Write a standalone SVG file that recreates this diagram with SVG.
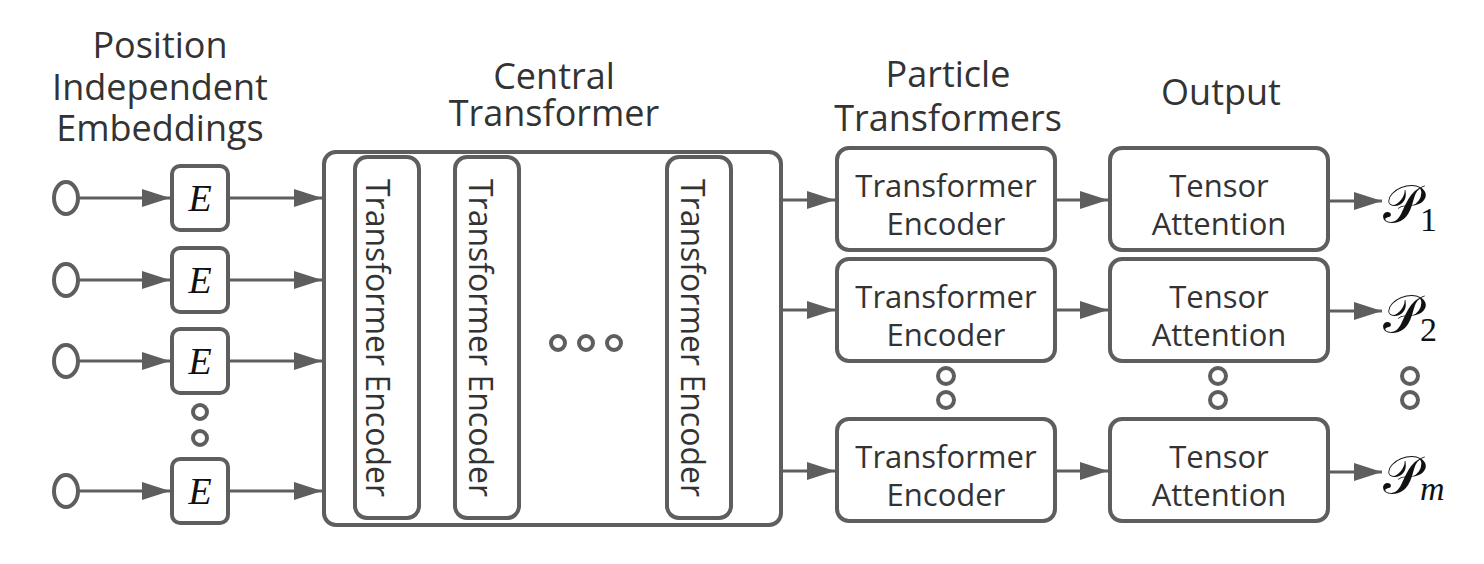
<svg xmlns="http://www.w3.org/2000/svg" width="1484" height="564" viewBox="0 0 1484 564">
<defs>
<marker id="ah" markerUnits="userSpaceOnUse" markerWidth="28" markerHeight="18" refX="28" refY="9" orient="auto">
<path d="M0,0 L28,9 L0,18 z" fill="#5e5e5e"/>
</marker>
<style>
.box{fill:#fff;stroke:#5e5e5e;stroke-width:4}
.dot{fill:none;stroke:#5e5e5e;stroke-width:4}
.con{stroke:#5e5e5e;stroke-width:3;fill:none}
.t{font-family:"Open Sans","Noto Sans",sans-serif;fill:#333;text-anchor:middle}
.title{font-size:36px}
.lbl{font-size:31px}
.vl{font-size:32px}
.e{font-family:"Liberation Serif","DejaVu Serif",serif;font-style:italic;font-size:38px;fill:#111;text-anchor:middle}
.p{font-family:"DejaVu Serif","Liberation Serif",serif;font-size:52px;fill:#111}
.sub{font-family:"Liberation Serif","DejaVu Serif",serif;font-size:34px;fill:#111}
</style>
</defs>
<rect width="1484" height="564" fill="#fff"/>

<g id="titles">
<text class="t title" x="160" y="58">Position<tspan x="160" dy="42">Independent</tspan><tspan x="160" dy="41">Embeddings</tspan></text>
<text class="t title" x="554" y="89">Central<tspan x="554" dy="37">Transformer</tspan></text>
<text class="t title" x="948" y="87">Particle<tspan x="948" dy="44">Transformers</tspan></text>
<text class="t title" x="1221" y="105">Output</text>
</g>

<g id="inputs">
<ellipse class="dot" cx="66" cy="198" rx="12" ry="16"/>
<ellipse class="dot" cx="66" cy="280" rx="12" ry="16"/>
<ellipse class="dot" cx="66" cy="361" rx="12" ry="16"/>
<ellipse class="dot" cx="66" cy="491" rx="12" ry="16"/>
</g>

<g id="embeddings">
<g id="E1"><rect class="box" x="172" y="166" width="56" height="64" rx="8"/><text class="e" x="200" y="211">E</text></g>
<g id="E2"><rect class="box" x="172" y="248" width="56" height="64" rx="8"/><text class="e" x="200" y="293">E</text></g>
<g id="E3"><rect class="box" x="172" y="329" width="56" height="64" rx="8"/><text class="e" x="200" y="374">E</text></g>
<g id="E4"><rect class="box" x="172" y="459" width="56" height="64" rx="8"/><text class="e" x="200" y="504">E</text></g>
<circle class="dot" cx="200" cy="412" r="7"/>
<circle class="dot" cx="200" cy="438" r="7"/>
</g>

<g id="central">
<rect class="box" x="324" y="152" width="457" height="373" rx="12"/>
<g id="enc1"><rect class="box" x="355" y="157" width="64" height="361" rx="12"/><text class="t vl" transform="translate(366,338) rotate(90)">Transformer Encoder</text></g>
<g id="enc2"><rect class="box" x="455" y="157" width="64" height="361" rx="12"/><text class="t vl" transform="translate(469,338) rotate(90)">Transformer Encoder</text></g>
<g id="enc3"><rect class="box" x="667" y="157" width="64" height="361" rx="12"/><text class="t vl" transform="translate(681,338) rotate(90)">Transformer Encoder</text></g>
<circle class="dot" cx="558" cy="343" r="7"/>
<circle class="dot" cx="586" cy="343" r="7"/>
<circle class="dot" cx="614" cy="343" r="7"/>
</g>

<g id="particle">
<g id="pt1"><rect class="box" x="837" y="148" width="218" height="102" rx="12"/><text class="t lbl" x="946" y="197">Transformer<tspan x="946" dy="38">Encoder</tspan></text></g>
<g id="pt2"><rect class="box" x="837" y="259" width="218" height="102" rx="12"/><text class="t lbl" x="946" y="308">Transformer<tspan x="946" dy="38">Encoder</tspan></text></g>
<g id="pt3"><rect class="box" x="837" y="419" width="218" height="102" rx="12"/><text class="t lbl" x="946" y="468">Transformer<tspan x="946" dy="38">Encoder</tspan></text></g>
<circle class="dot" cx="946" cy="376" r="8"/>
<circle class="dot" cx="946" cy="400" r="8"/>
</g>

<g id="tensor">
<g id="ta1"><rect class="box" x="1110" y="148" width="218" height="102" rx="12"/><text class="t lbl" x="1219" y="197">Tensor<tspan x="1219" dy="38">Attention</tspan></text></g>
<g id="ta2"><rect class="box" x="1110" y="259" width="218" height="102" rx="12"/><text class="t lbl" x="1219" y="308">Tensor<tspan x="1219" dy="38">Attention</tspan></text></g>
<g id="ta3"><rect class="box" x="1110" y="419" width="218" height="102" rx="12"/><text class="t lbl" x="1219" y="468">Tensor<tspan x="1219" dy="38">Attention</tspan></text></g>
<circle class="dot" cx="1218" cy="376" r="8"/>
<circle class="dot" cx="1218" cy="400" r="8"/>
</g>

<g id="outputs">
<g id="o1"><text class="p" x="1383" y="222">𝒫<tspan class="sub" x="1420" y="231">1</tspan></text></g>
<g id="o2"><text class="p" x="1383" y="332">𝒫<tspan class="sub" x="1420" y="341">2</tspan></text></g>
<g id="o3"><text class="p" x="1383" y="493">𝒫<tspan class="sub" x="1420" y="500" font-style="italic">m</tspan></text></g>
<circle class="dot" cx="1410" cy="376" r="8"/>
<circle class="dot" cx="1410" cy="400" r="8"/>
</g>

<g id="connectors">
<line class="con" x1="78" y1="198" x2="170" y2="198" marker-end="url(#ah)"/>
<line class="con" x1="78" y1="280" x2="170" y2="280" marker-end="url(#ah)"/>
<line class="con" x1="78" y1="361" x2="170" y2="361" marker-end="url(#ah)"/>
<line class="con" x1="78" y1="491" x2="170" y2="491" marker-end="url(#ah)"/>
<line class="con" x1="230" y1="198" x2="322" y2="198" marker-end="url(#ah)"/>
<line class="con" x1="230" y1="280" x2="322" y2="280" marker-end="url(#ah)"/>
<line class="con" x1="230" y1="361" x2="322" y2="361" marker-end="url(#ah)"/>
<line class="con" x1="230" y1="491" x2="322" y2="491" marker-end="url(#ah)"/>
<line class="con" x1="783" y1="200" x2="835" y2="200" marker-end="url(#ah)"/>
<line class="con" x1="783" y1="310" x2="835" y2="310" marker-end="url(#ah)"/>
<line class="con" x1="783" y1="471" x2="835" y2="471" marker-end="url(#ah)"/>
<line class="con" x1="1057" y1="200" x2="1108" y2="200" marker-end="url(#ah)"/>
<line class="con" x1="1057" y1="310" x2="1108" y2="310" marker-end="url(#ah)"/>
<line class="con" x1="1057" y1="471" x2="1108" y2="471" marker-end="url(#ah)"/>
<line class="con" x1="1330" y1="201" x2="1382" y2="201" marker-end="url(#ah)"/>
<line class="con" x1="1330" y1="311" x2="1382" y2="311" marker-end="url(#ah)"/>
<line class="con" x1="1330" y1="472" x2="1382" y2="472" marker-end="url(#ah)"/>
</g>
</svg>
